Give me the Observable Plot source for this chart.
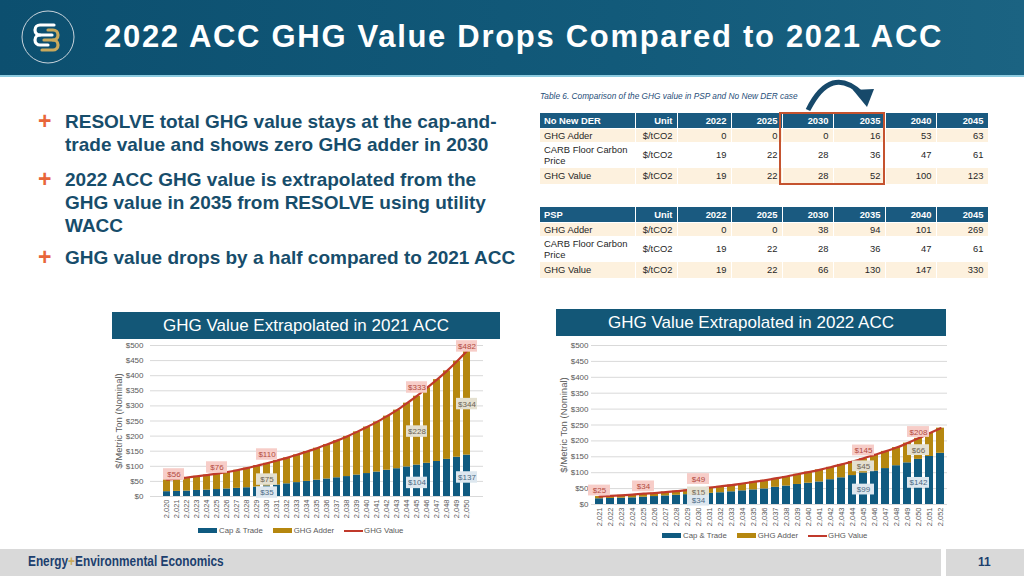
<!DOCTYPE html>
<html>
<head>
<meta charset="utf-8">
<script src="https://cdn.jsdelivr.net/npm/d3@7"></script>
<script src="https://cdn.jsdelivr.net/npm/@observablehq/plot@0.6"></script>
<style>
  html, body { margin:0; padding:0; }
  body { width:1024px; height:576px; position:relative; overflow:hidden; background:#fff; font-family:"Liberation Sans", Arial, sans-serif; }
  .abs { position:absolute; }
  #hdr { left:0; top:0; width:1024px; height:75px; background:linear-gradient(90deg,#0c4f6f 0%,#125a7a 60%,#1b6382 100%); }
  #hdrline { left:0; top:75px; width:1024px; height:2px; background:#8ccbe0; }
  #title { left:104px; top:19px; color:#fff; font-weight:bold; font-size:31px; white-space:nowrap; letter-spacing:1.7px; }
  .bul { left:38px; color:#174d6b; font-weight:bold; font-size:19px; line-height:23px; white-space:nowrap; }
  .bul .plus { position:absolute; left:0; top:0; color:#e8663a; font-size:23px; }
  .bul .txt { position:absolute; left:27px; top:0; }
  #cap6 { left:540px; top:91px; font-family:"Liberation Sans", sans-serif; font-style:italic; font-size:8.3px; color:#1f4e79; white-space:nowrap; }
  table.t { position:absolute; border-collapse:collapse; table-layout:fixed; font-family:"Liberation Sans", sans-serif; font-size:9.4px; color:#262626; }
  table.t th { background:#1a5a80; color:#fff; font-weight:bold; text-align:right; padding:0 4px; border-right:1px solid #fff; }
  table.t th:first-child { text-align:left; }
  table.t td { text-align:right; padding:0 4px; border-right:1px solid #fff; border-top:1px solid #fff; }
  table.t td:first-child { text-align:left; line-height:11px; }
  table.t tr.odd td { background:#fdf1de; }
  table.t tr.even td { background:#fff; }
  .ctitle { background:#135777; color:#fff; font-size:17px; text-align:center; line-height:27px; height:27px; }
  .legend { font-size:7.8px; color:#595959; white-space:nowrap; }
  .legend span.sw { display:inline-block; width:19px; height:5px; vertical-align:middle; margin-right:2px; }
  .legend span.ln { display:inline-block; width:19px; height:2px; vertical-align:middle; margin-right:1px; background:#c0392b; }
  .legend span.it { margin-right:10px; }
  #foot { left:0; top:549px; width:941px; height:27px; background:#d9d9d9; }
  #foot2 { left:946px; top:549px; width:78px; height:27px; background:#d9d9d9; }
  #brand { left:28px; top:553px; font-family:"Liberation Sans", sans-serif; font-weight:bold; font-size:14px; color:#1c3f6e; white-space:nowrap; transform:scaleX(0.845); transform-origin:0 0; }
  #pg { left:978px; top:555px; font-family:"Liberation Sans", sans-serif; font-weight:bold; font-size:12px; color:#1c3f6e; }
</style>
</head>
<body>
<div id="hdr" class="abs"></div>
<div id="hdrline" class="abs"></div>
<svg class="abs" style="left:18px;top:8px" width="60" height="60">
  <circle cx="30" cy="29" r="26" fill="none" stroke="#c9d4dc" stroke-width="1"/>
  <path d="M36,17 H22 a5,5 0 0 0 0,10 H34" fill="none" stroke="#fff" stroke-width="3.2" stroke-linecap="round"/>
  <path d="M22,27 a5,5 0 0 0 0,10 H30" fill="none" stroke="#fff" stroke-width="3.2" stroke-linecap="round"/>
  <path d="M26,32 H35 a5,5 0 0 1 0,10 H24" fill="none" stroke="#c9a95c" stroke-width="3.2" stroke-linecap="round"/>
  <path d="M30,22 H35 a5,5 0 0 1 0,10" fill="none" stroke="#c9a95c" stroke-width="3.2" stroke-linecap="round"/>
</svg>
<div id="title" class="abs">2022 ACC GHG Value Drops Compared to 2021 ACC</div>

<div class="abs bul" style="top:110px"><span class="plus">+</span><span class="txt">RESOLVE total GHG value stays at the cap-and-<br>trade value and shows zero GHG adder in 2030</span></div>
<div class="abs bul" style="top:168px"><span class="plus">+</span><span class="txt">2022 ACC GHG value is extrapolated from the<br>GHG value in 2035 from RESOLVE using utility<br>WACC</span></div>
<div class="abs bul" style="top:246px"><span class="plus">+</span><span class="txt">GHG value drops by a half compared to 2021 ACC</span></div>

<div id="cap6" class="abs">Table 6. Comparison of the GHG value in PSP and No New DER case</div>
<div id="tables"></div>
<div class="abs" style="left:779px;top:112px;width:106px;height:73px;border:2px solid #c5532f;box-sizing:border-box;"></div>
<svg class="abs" style="left:795px;top:74px" width="90" height="40">
  <path d="M13,36 Q36,-10 67,20" fill="none" stroke="#17496a" stroke-width="5"/>
  <polygon points="58,16 79,15 72,33" fill="#17496a"/>
</svg>

<div class="abs ctitle" style="left:112px;top:312px;width:388px;">GHG Value Extrapolated in 2021 ACC</div>
<div class="abs ctitle" style="left:556px;top:309px;width:390px;">GHG Value Extrapolated in 2022 ACC</div>
<div id="c1" class="abs" style="left:105px;top:338px"></div>
<div id="c2" class="abs" style="left:550px;top:338px"></div>
<div class="abs legend" style="left:198px;top:526px"><span class="sw" style="background:#0f5a80"></span><span class="it">Cap &amp; Trade</span><span class="sw" style="background:#b5870f"></span><span class="it">GHG Adder</span><span class="ln"></span>GHG Value</div>
<div class="abs legend" style="left:662px;top:531px"><span class="sw" style="background:#0f5a80"></span><span class="it">Cap &amp; Trade</span><span class="sw" style="background:#b5870f"></span><span class="it">GHG Adder</span><span class="ln"></span>GHG Value</div>

<div id="foot" class="abs"></div>
<div id="foot2" class="abs"></div>
<div id="brand" class="abs">Energy<span style="color:#c9a95c">+</span>Environmental Economics</div>
<div id="pg" class="abs">11</div>

<script>
// ---------- Table data ----------
const tableYears = ["2022","2025","2030","2035","2040","2045"];
const tableRowNames = ["GHG Adder","CARB Floor Carbon Price","GHG Value"];
const tableUnit = "$/tCO2";
const noNewDerAdder = [0,0,0,16,53,63];
const noNewDerCarb  = [19,22,28,36,47,61];
const noNewDerValue = [19,22,28,52,100,123];
const pspAdder = [0,0,38,94,101,269];
const pspCarb  = [19,22,28,36,47,61];
const pspValue = [19,22,66,130,147,330];

// ---------- Chart 1 (2021 ACC) ----------
const years1 = [2020,2021,2022,2023,2024,2025,2026,2027,2028,2029,2030,2031,2032,2033,2034,2035,2036,2037,2038,2039,2040,2041,2042,2043,2044,2045,2046,2047,2048,2049,2050];
const cap1   = [16,17,18,20,21,23,25,27,29,31,35,38,42,46,50,54,58,62,66,71,76,81,87,92,98,104,110,116,123,130,137];
const adder1 = [40,42,45,47,50,53,56,60,65,71,75,81,86,92,99,106,114,123,133,143,154,166,179,194,211,228,250,271,293,318,344];
const total1 = [56,59,63,67,71,76,81,87,94,102,110,119,128,138,149,160,172,185,199,214,230,247,266,286,309,333,360,387,416,448,482];
const labels1 = [
  {year:2020, y:73,  text:"$56",  kind:"total", dx:7},
  {year:2025, y:96,  text:"$76",  kind:"total", dx:0},
  {year:2030, y:139, text:"$110", kind:"total", dx:0},
  {year:2030, y:56,  text:"$75",  kind:"adder", dx:0},
  {year:2030, y:13,  text:"$35",  kind:"cap",   dx:0},
  {year:2045, y:361, text:"$333", kind:"total", dx:0},
  {year:2045, y:215, text:"$228", kind:"adder", dx:0},
  {year:2045, y:45,  text:"$104", kind:"cap",   dx:0},
  {year:2050, y:497, text:"$482", kind:"total", dx:0},
  {year:2050, y:306, text:"$344", kind:"adder", dx:0},
  {year:2050, y:63,  text:"$137", kind:"cap",   dx:0}
];

// ---------- Chart 2 (2022 ACC) ----------
const years2 = [2021,2022,2023,2024,2025,2026,2027,2028,2029,2030,2031,2032,2033,2034,2035,2036,2037,2038,2039,2040,2041,2042,2043,2044,2045,2046,2047,2048,2049,2050,2051,2052];
const cap2   = [18,19,20,21,23,25,27,29,31,34,35,37,40,43,46,49,54,58,63,67,71,78,84,91,99,105,113,122,131,142,151,161];
const adder2 = [7,8,9,10,11,11,12,13,14,15,18,20,21,23,25,27,28,30,32,35,38,39,42,44,45,51,54,57,62,66,73,79];
const total2 = [25,27,29,31,34,36,39,42,45,49,53,57,61,66,71,76,82,88,95,102,109,117,126,135,145,156,167,179,193,208,224,240];
const labels2 = [
  {year:2021, y:44,  text:"$25",  kind:"total", dx:0},
  {year:2025, y:57,  text:"$34",  kind:"total", dx:0},
  {year:2030, y:80,  text:"$49",  kind:"total", dx:0},
  {year:2030, y:38,  text:"$15",  kind:"adder", dx:0},
  {year:2030, y:12,  text:"$34",  kind:"cap",   dx:0},
  {year:2045, y:170, text:"$145", kind:"total", dx:0},
  {year:2045, y:120, text:"$45",  kind:"adder", dx:0},
  {year:2045, y:47,  text:"$99",  kind:"cap",   dx:0},
  {year:2050, y:228, text:"$208", kind:"total", dx:0},
  {year:2050, y:171, text:"$66",  kind:"adder", dx:0},
  {year:2050, y:68,  text:"$142", kind:"cap",   dx:0}
];

const yTicks = [0,50,100,150,200,250,300,350,400,450,500];
const yLabel = "$/Metric Ton (Nominal)";
const seriesNames = ["Cap & Trade","GHG Adder"];
const seriesColors = ["#0f5a80","#b5870f"];
const lineColor = "#c0392b";
const labelStyles = {
  total: {bg:"#f7cdc8", fg:"#b24a3e"},
  adder: {bg:"#e4e0d0", fg:"#6b6355"},
  cap:   {bg:"#dde7ef", fg:"#4b6a84"}
};

// ---------- Build tables ----------
function buildTable(name, rows, top, heights) {
  const widths = [95,42,54,51,51,52,51,52];
  let h = `<table class="t" style="left:540px;top:${top}px;width:448px">`;
  h += "<colgroup>" + widths.map(w => `<col style="width:${w}px">`).join("") + "</colgroup>";
  h += `<tr style="height:${heights[0]}px"><th>${name}</th><th>Unit</th>` + tableYears.map(y => `<th>${y}</th>`).join("") + "</tr>";
  rows.forEach((r, i) => {
    const label = i === 1 ? "CARB Floor Carbon<br>Price" : tableRowNames[i];
    h += `<tr class="${i === 1 ? "even" : "odd"}" style="height:${heights[i+1]}px"><td>${label}</td><td>${tableUnit}</td>` + r.map(v => `<td>${v}</td>`).join("") + "</tr>";
  });
  h += "</table>";
  return h;
}
document.getElementById("tables").innerHTML =
  buildTable("No New DER", [noNewDerAdder, noNewDerCarb, noNewDerValue], 113, [15,14,25,17]) +
  buildTable("PSP", [pspAdder, pspCarb, pspValue], 207, [15,14,25,17]);

// ---------- Charts ----------
function makeChart(cfg) {
  const {years, cap, adder, total, labels, width, height, marginLeft, marginRight, marginTop, marginBottom, labelOffset, tickPadding, padding, halfBox, boxInset} = cfg;
  const rows = years.flatMap((yr, i) => [
    {year: yr, series: seriesNames[0], v: cap[i]},
    {year: yr, series: seriesNames[1], v: adder[i]}
  ]);
  const lineData = years.map((yr, i) => ({year: yr, v: total[i]}));
  const marks = [
    Plot.ruleY(yTicks, {stroke: "#d9d9d9", strokeWidth: 1}),
    Plot.axisY({ticks: yTicks, tickFormat: d => "$" + d, tickSize: 0, tickPadding, fontSize: 8, label: null}),
    Plot.axisX({tickSize: 0, tickRotate: -90, tickPadding: 3, fontSize: 7.5, label: null}),
    Plot.text([yLabel], {frameAnchor: "left", rotate: -90, textAnchor: "middle", dx: -labelOffset, fontSize: 9.5, fill: "#595959", text: d => d}),
    Plot.barY(rows, {x: "year", y: "v", fill: "series"}),
    Plot.line(lineData, {x: "year", y: "v", stroke: lineColor, strokeWidth: 2.2, curve: "monotone-x"})
  ];
  ["total","adder","cap"].forEach(k => {
    const groups = d3.groups(labels.filter(l => l.kind === k), l => l.dx);
    groups.forEach(([dx, d]) => {
      marks.push(Plot.barY(d, {x: "year", y1: l => l.y - halfBox, y2: l => l.y + halfBox, fill: labelStyles[k].bg, insetLeft: -boxInset, insetRight: -boxInset, dx}));
      marks.push(Plot.text(d, {x: "year", y: "y", text: "text", fill: labelStyles[k].fg, fontSize: 8, dx}));
    });
  });
  return Plot.plot({
    width, height, marginLeft, marginRight, marginTop, marginBottom,
    style: {fontFamily: "Liberation Sans, sans-serif", fontSize: "7.5px", color: "#595959", background: "transparent", overflow: "visible"},
    x: {type: "band", domain: years, padding},
    y: {domain: [0, 500]},
    color: {domain: seriesNames, range: seriesColors},
    marks
  });
}

document.getElementById("c1").appendChild(makeChart({
  years: years1, cap: cap1, adder: adder1, total: total1, labels: labels1,
  width: 382, height: 185, marginLeft: 45, marginRight: 4, marginTop: 7, marginBottom: 27,
  labelOffset: 32, tickPadding: 7, padding: 0.35, halfBox: 19, boxInset: 7
}));
document.getElementById("c2").appendChild(makeChart({
  years: years2, cap: cap2, adder: adder2, total: total2, labels: labels2,
  width: 402, height: 194, marginLeft: 41, marginRight: 5, marginTop: 7, marginBottom: 28,
  labelOffset: 28, tickPadding: 3, padding: 0.28, halfBox: 17, boxInset: 7
}));
</script>
</body>
</html>
